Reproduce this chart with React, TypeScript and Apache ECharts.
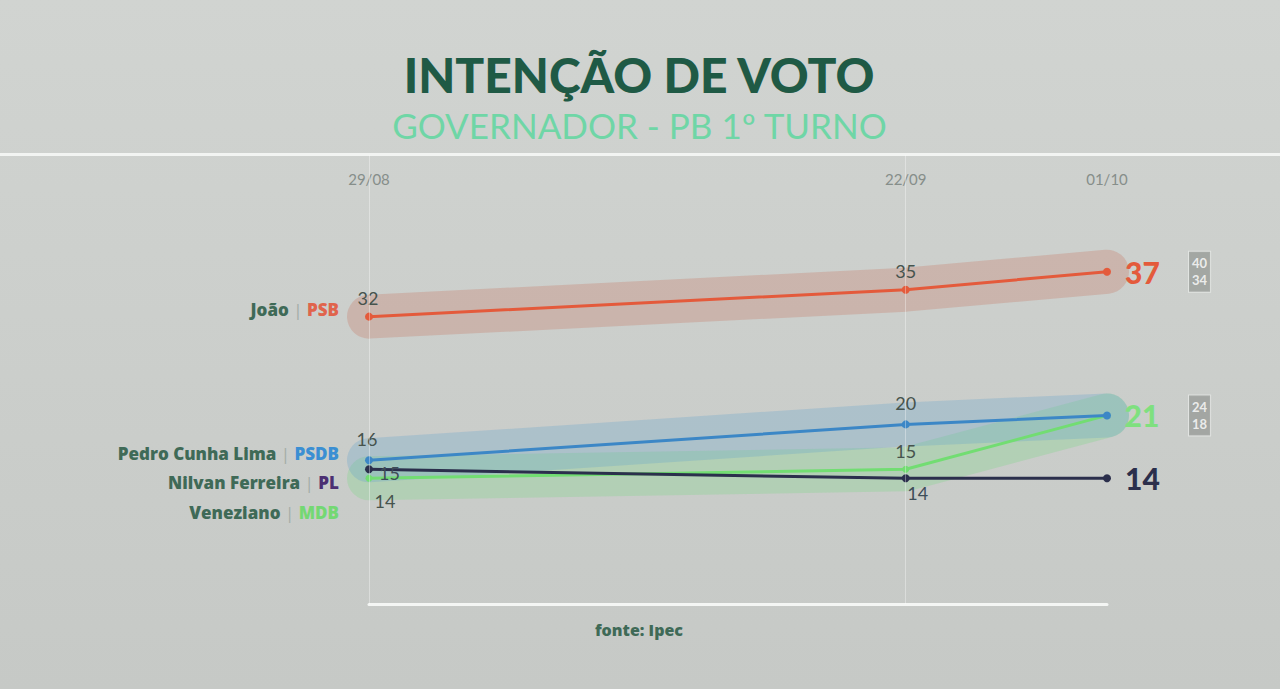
import React, { useEffect, useRef } from "react";
import * as echarts from "echarts";

const dates = ["2022-08-29", "2022-09-22", "2022-10-01"];
const dateLabels = ["29/08", "22/09", "01/10"];
const joao = [32, 35, 37];
const pedro = [16, 20, 21];
const nilvan = [15, 14, 14];
const veneziano = [14, 15, 21];
const joaoRange = ["40", "34"];
const pedroRange = ["24", "18"];

const candidates = [
  { name: "João", party: "PSB", partyColor: "#e0644c" },
  { name: "Pedro Cunha Lima", party: "PSDB", partyColor: "#3b8fd3" },
  { name: "Nilvan Ferreira", party: "PL", partyColor: "#4b2f72" },
  { name: "Veneziano", party: "MDB", partyColor: "#74d873" },
];

const C_JOAO = "#e45a3b";
const C_PEDRO = "#3c87c6";
const C_NILVAN = "#2b2f4c";
const C_VENEZ = "#72dd72";
const LBL = "#46534d";

export default function App() {
  const ref = useRef<HTMLDivElement>(null);
  useEffect(() => {
    document.body.style.margin = "0";
    if (!ref.current) return;
    const chart = echarts.init(ref.current, undefined, { renderer: "svg" });
    const parse = (d: string) => {
      const [y, m, dd] = d.split("-").map(Number);
      return Date.UTC(y, m - 1, dd);
    };
    const t0 = parse(dates[0]);
    const days = dates.map((d) => Math.round((parse(d) - t0) / 86400000));
    const maxDay = days[days.length - 1];
    const pts = (vals: number[]) => vals.map((v, i) => [days[i], v]);
    const lastPt = (vals: number[]) => [[maxDay, vals[vals.length - 1]]];
    const mkLabels = (vals: number[], cfg: any[]) =>
      vals.map((v, i) => ({ value: [days[i], v], label: cfg[i] }));

    const FF = "Lato, 'Open Sans', sans-serif";
    const FW = "'Open Sans', Lato, sans-serif";

    const small = (position: string, offset: number[] = [0, 0], color = LBL) => ({
      show: true,
      position,
      offset,
      color,
      fontSize: 18,
      fontFamily: FF,
      distance: 8,
    });
    const big = (color: string) => ({
      show: true,
      position: "right",
      distance: 14,
      color,
      fontSize: 30,
      fontWeight: 900,
      fontFamily: FF,
    });

    const band = (vals: number[], color: string) => ({
      type: "line",
      data: pts(vals),
      symbol: "none",
      silent: true,
      z: 1,
      lineStyle: { width: 44, color, cap: "round", join: "round" },
      label: { show: false },
    });

    const rangeBox = (vals: number[], range: string[]) => ({
      type: "scatter",
      data: lastPt(vals),
      symbolSize: 0,
      silent: true,
      z: 5,
      label: {
        show: true,
        position: "right",
        distance: 82,
        formatter: range.join("\n"),
        color: "#ffffff",
        fontSize: 13,
        fontWeight: 700,
        lineHeight: 17,
        padding: [3, 3],
        backgroundColor: "#989c98",
        borderColor: "#e6e8e6",
        borderWidth: 1,
        fontFamily: FF,
      },
    });

    const leftY = [313, 457, 486, 516];
    const leftTexts = candidates.map((c, i) => ({
      type: "text",
      right: 1280 - 339,
      top: leftY[i] - 12,
      style: {
        text: `{n|${c.name}}{s| | }{p|${c.party}}`,
        align: "right",
        rich: {
          n: { fill: "#3f6a57", fontSize: 17, fontWeight: 800, fontFamily: FW },
          s: { fill: "#a3aca7", fontSize: 17, fontFamily: FW },
          p: { fill: c.partyColor, fontSize: 17, fontWeight: 800, fontFamily: FW },
        },
      },
    }));

    chart.setOption({
      animation: false,
      backgroundColor: {
        type: "linear",
        x: 0, y: 0, x2: 0, y2: 1,
        colorStops: [
          { offset: 0, color: "#d1d4d1" },
          { offset: 1, color: "#c6c9c6" },
        ],
      },
      grid: { left: 369, right: 173, top: 155, bottom: 85 },
      xAxis: [
        {
          type: "value",
          position: "top",
          min: 0,
          max: maxDay,
          axisLine: { show: false },
          axisTick: { show: false },
          splitLine: { show: false },
          axisLabel: {
            inside: true,
            margin: 16,
            customValues: days,
            color: "#868e8a",
            fontSize: 15,
            fontFamily: FF,
            formatter: (val: number) => {
              const idx = days.indexOf(Math.round(val));
              return idx >= 0 ? dateLabels[idx] : "";
            },
          },
        },
        {
          type: "value",
          position: "bottom",
          min: 0,
          max: maxDay,
          axisLine: { show: true, lineStyle: { color: "#f4f6f4", width: 3 } },
          axisTick: { show: false },
          axisLabel: { show: false },
          splitLine: { show: false },
        },
      ],
      yAxis: {
        type: "value",
        min: 0,
        max: 50,
        show: false,
      },
      graphic: [
        {
          type: "rect",
          left: 0,
          top: 153,
          shape: { width: 1280, height: 3 },
          style: { fill: "#f2f4f2" },
        },
        {
          type: "text",
          left: "center",
          top: 50,
          style: {
            text: "INTENÇÃO DE VOTO",
            fill: "#1f5a45",
            fontSize: 48,
            fontWeight: 900,
            fontFamily: FF,
          },
        },
        {
          type: "text",
          left: "center",
          top: 107,
          style: {
            text: "GOVERNADOR - PB 1º TURNO",
            fill: "#6fd6a6",
            fontSize: 35,
            fontWeight: 400,
            fontFamily: FF,
          },
        },
        {
          type: "text",
          left: 595,
          top: 622,
          style: {
            text: "fonte: Ipec",
            fill: "#3f6a57",
            fontSize: 16,
            fontWeight: 800,
            fontFamily: FW,
          },
        },
        ...leftTexts,
      ],
      series: [
        band(joao, "rgba(200,118,100,0.30)"),
        band(veneziano, "rgba(118,214,128,0.28)"),
        band(pedro, "rgba(98,160,205,0.28)"),
        {
          type: "line",
          data: pts(joao),
          symbol: "none",
          silent: true,
          z: 0,
          lineStyle: { width: 0, opacity: 0 },
          markLine: {
            silent: true,
            symbol: "none",
            label: { show: false },
            lineStyle: { color: "rgba(255,255,255,0.35)", width: 1, type: "solid" },
            data: days.slice(0, 2).map((t) => ({ xAxis: t })),
          },
        },
        {
          name: "Veneziano",
          type: "line",
          z: 3,
          data: mkLabels(veneziano, [
            small("bottom", [16, 2]),
            small("top", [0, 2]),
            big("#7fe07f"),
          ]),
          symbol: "circle",
          symbolSize: 7,
          itemStyle: { color: C_VENEZ },
          lineStyle: { width: 3, color: C_VENEZ },
        },
        {
          name: "Pedro",
          type: "line",
          z: 4,
          data: mkLabels(pedro, [
            small("top", [-2, 0]),
            small("top", [0, 0]),
            { show: false },
          ]),
          symbol: "circle",
          symbolSize: 8,
          itemStyle: { color: C_PEDRO },
          lineStyle: { width: 3, color: C_PEDRO },
        },
        {
          name: "Nilvan",
          type: "line",
          z: 4,
          data: mkLabels(nilvan, [
            small("right", [-2, 4], "#3e4d58"),
            small("bottom", [12, -6], "#3e4d58"),
            big(C_NILVAN),
          ]),
          symbol: "circle",
          symbolSize: 8,
          itemStyle: { color: C_NILVAN },
          lineStyle: { width: 3, color: C_NILVAN },
        },
        {
          name: "João",
          type: "line",
          z: 4,
          data: mkLabels(joao, [
            small("top", [-1, 2]),
            small("top", [0, 2]),
            big(C_JOAO),
          ]),
          symbol: "circle",
          symbolSize: 8,
          itemStyle: { color: C_JOAO },
          lineStyle: { width: 3, color: C_JOAO },
        },
        rangeBox(joao, joaoRange),
        rangeBox(pedro, pedroRange),
      ],
    });
    return () => chart.dispose();
  }, []);
  return <div ref={ref} style={{ width: 1280, height: 689 }} />;
}
